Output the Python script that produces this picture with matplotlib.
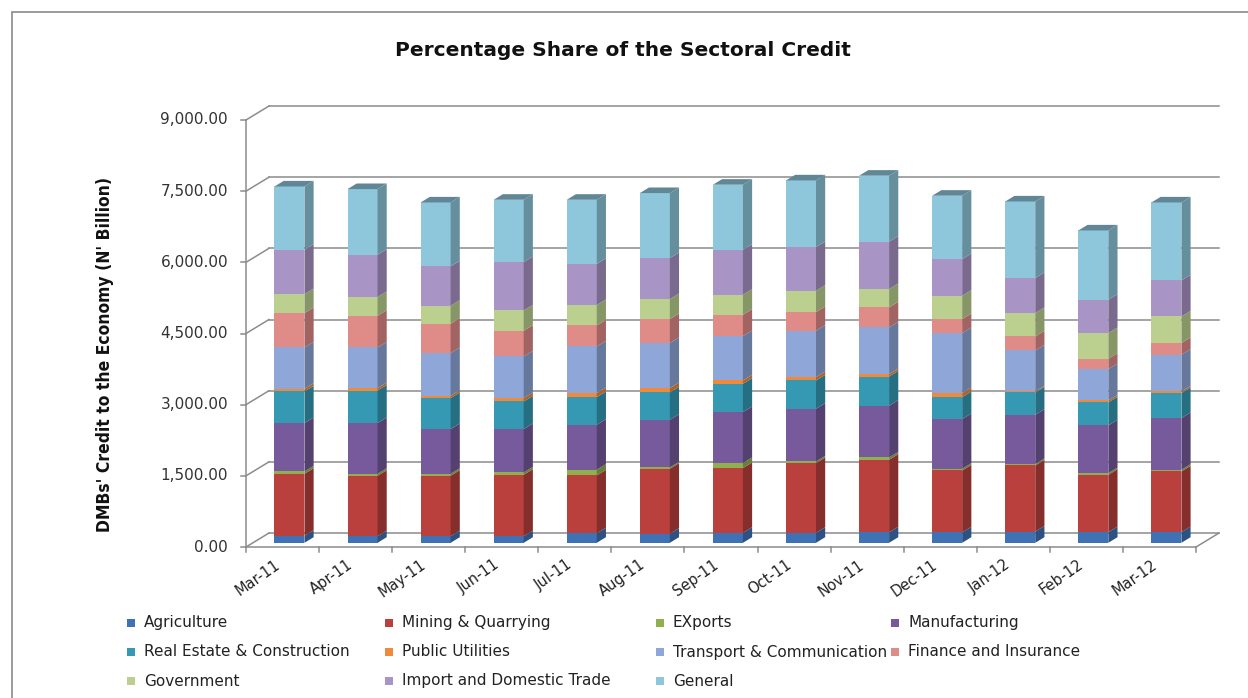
import matplotlib.pyplot as plt
import numpy as np
from matplotlib.patches import Polygon, Rectangle
from matplotlib.colors import to_rgb

months = ['Mar-11', 'Apr-11', 'May-11', 'Jun-11', 'Jul-11', 'Aug-11', 'Sep-11',
          'Oct-11', 'Nov-11', 'Dec-11', 'Jan-12', 'Feb-12', 'Mar-12']

sectors = ['Agriculture', 'Mining & Quarrying', 'EXports', 'Manufacturing',
           'Real Estate & Construction', 'Public Utilities', 'Transport & Communication',
           'Finance and Insurance', 'Government', 'Import and Domestic Trade', 'General']

# N' billion per sector, one value per month
agriculture   = [150, 140, 140, 140, 200, 190, 211, 211, 220, 220, 238, 225, 225]
mining        = [1304, 1272, 1272, 1293, 1219, 1370, 1364, 1469, 1530, 1304, 1392, 1208, 1278]
exports       = [49, 42, 42, 49, 120, 28, 105, 34, 48, 36, 29, 35, 36]
manufacturing = [1020, 1069, 943, 915, 949, 1005, 1075, 1111, 1090, 1048, 1039, 1006, 1090]
real_estate   = [667, 687, 653, 582, 583, 575, 597, 596, 617, 463, 470, 484, 527]
utilities     = [56, 50, 49, 71, 85, 92, 69, 70, 50, 85, 22, 42, 34]
transport     = [871, 857, 899, 877, 982, 950, 935, 978, 984, 1264, 864, 661, 773]
finance       = [725, 668, 618, 542, 443, 505, 450, 394, 422, 295, 295, 218, 247]
government    = [400, 395, 380, 428, 431, 421, 422, 449, 387, 492, 493, 541, 561]
import_trade  = [934, 891, 830, 1020, 864, 865, 948, 919, 997, 773, 738, 703, 759]
general       = [1334, 1384, 1347, 1313, 1354, 1370, 1371, 1407, 1392, 1335, 1614, 1460, 1643]

yticks = [0, 1500, 3000, 4500, 6000, 7500, 9000]

colors = ['#3f72b4', '#b9403c', '#8fb04d', '#765a9c', '#3599b3', '#f08a3a',
          '#8ea7d8', '#df8b88', '#bbd08e', '#a995c5', '#8ec7dc']

series = np.array([agriculture, mining, exports, manufacturing, real_estate, utilities,
                   transport, finance, government, import_trade, general], dtype=float)
tops = np.cumsum(series, axis=0)
bottoms = tops - series


def shade(c, f):
    r, g, b = to_rgb(c)
    return (r * f, g * f, b * f)


W, H = 1248, 698
fig = plt.figure(figsize=(W / 100, H / 100), dpi=100)
fig.patch.set_facecolor('white')

# pixel layout of the 3-D frame
X0, Y0 = 246, 547            # front-left corner of the floor
CAT_W = 73.08                # pixels per category
PPV = 427 / 9000             # pixels per unit of value
DX = 23 / CAT_W              # depth of the box (data units)
DY = 14 / PPV

ax = fig.add_axes([0, 0, 1, 1])
ax.set_xlim(-0.5 - X0 / CAT_W, -0.5 + (W - X0) / CAT_W)
ax.set_ylim((Y0 - H) / PPV, Y0 / PPV)
ax.axis('off')

n = len(months)
xl, xr = -0.5, n - 0.5
gcol = '#8c8c8c'

# back wall gridlines and side-wall diagonals
for v in yticks:
    ax.plot([xl + DX, xr + DX], [v + DY, v + DY], color=gcol, lw=1.1, zorder=1)
    ax.plot([xl, xl + DX], [v, v + DY], color=gcol, lw=1.1, zorder=1)
    ax.plot([xl - 5 / CAT_W, xl], [v, v], color=gcol, lw=1.1, zorder=1)
    ax.text(xl - 18 / CAT_W, v, f'{v:,.2f}', ha='right', va='center',
            fontsize=11, color='#333333')

# front axis and floor
ax.plot([xl, xl], [0, yticks[-1]], color=gcol, lw=1.1, zorder=1)
ax.plot([xl, xr], [0, 0], color=gcol, lw=1.1, zorder=1)
ax.plot([xr, xr + DX], [0, DY], color=gcol, lw=1.1, zorder=1)
for j in range(n + 1):
    ax.plot([xl + j, xl + j], [0, -5 / PPV], color=gcol, lw=1.1, zorder=1)

# bars with side faces and a cap
bw = 30 / CAT_W
fx, fy = 0.3 * DX, 0.3 * DY
bdx, bdy = 0.4 * DX, 0.4 * DY
x = np.arange(n)
for k in range(len(sectors)):
    ax.bar(x + fx, series[k], bw, bottom=bottoms[k] + fy, color=colors[k],
           linewidth=0, zorder=3)
    for i in range(n):
        r = i + fx + bw / 2
        lo, hi = bottoms[k, i] + fy, tops[k, i] + fy
        ax.add_patch(Polygon([(r, lo), (r + bdx, lo + bdy), (r + bdx, hi + bdy), (r, hi)],
                             closed=True, facecolor=shade(colors[k], 0.72),
                             linewidth=0, zorder=3))
for i in range(n):
    l = i + fx - bw / 2
    top = tops[-1, i] + fy
    ax.add_patch(Polygon([(l, top), (l + bw, top), (l + bw + bdx, top + bdy), (l + bdx, top + bdy)],
                         closed=True, facecolor=shade(colors[-1], 0.68),
                         linewidth=0, zorder=3))
    ax.text(i, -10 / PPV, months[i], rotation=35, ha='right', va='top',
            fontsize=10.5, color='#222222')

fig.text(623 / W, 1 - 50 / H, 'Percentage Share of the Sectoral Credit',
         ha='center', va='center', fontsize=14.5, fontweight='bold', color='#111111')
fig.text(105 / W, 1 - 354 / H, "DMBs' Credit to the Economy (N' Billion)",
         rotation=90, ha='center', va='center', fontsize=12.5, fontweight='bold',
         fontstretch='condensed', family='DejaVu Sans', color='#111111')

# legend, laid out in rows of four
col_x = [131, 389, 660, 895]
row_y = [623, 652, 681]
for k, name in enumerate(sectors):
    cx, cy = col_x[k % 4], row_y[k // 4]
    fig.add_artist(Rectangle(((cx - 4) / W, 1 - (cy + 4) / H), 8 / W, 8 / H,
                             transform=fig.transFigure, facecolor=colors[k], linewidth=0))
    fig.text((cx + 13) / W, 1 - cy / H, name, ha='left', va='center',
             fontsize=11, color='#222222')

# outer chart border
fig.add_artist(Rectangle((12 / W, -0.05), 1.2, 1.05 - 12 / H, transform=fig.transFigure,
                         fill=False, edgecolor='#8a8a8a', linewidth=1.2))

fig.savefig('out.png', dpi=100)
